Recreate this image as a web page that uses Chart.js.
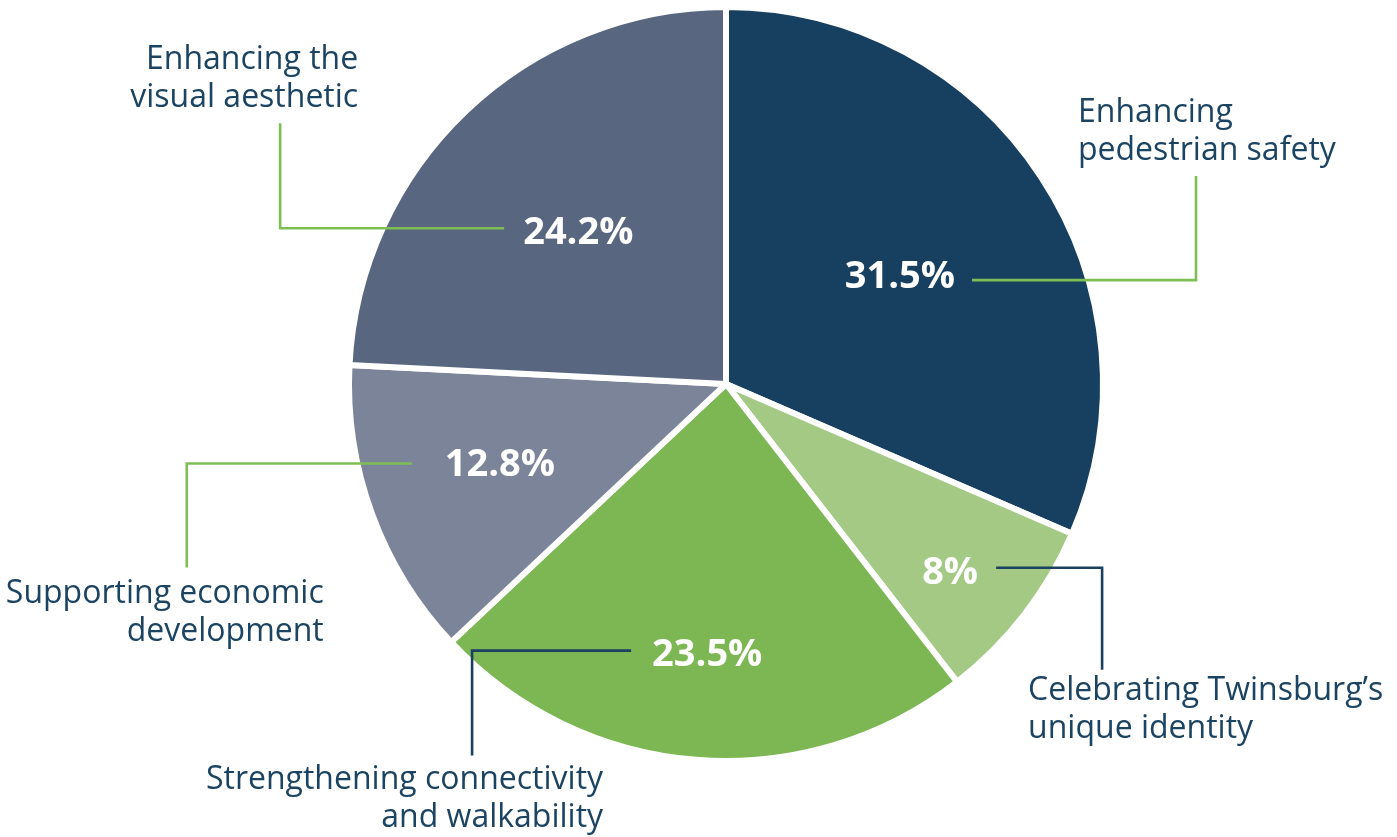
<!DOCTYPE html>
<html><head><meta charset="utf-8">
<script src="https://cdn.jsdelivr.net/npm/chart.js@4.4.0/dist/chart.umd.min.js"></script>
<style>html,body{margin:0;padding:0;background:#fff;overflow:hidden}#wrap{width:1397px;height:837px;position:relative}</style>
</head><body><div id="wrap"><canvas id="c"></canvas></div>
<script>
// ---- data ----
const categories = [
  ["Enhancing", "pedestrian safety"],
  ["Celebrating Twinsburg’s", "unique identity"],
  ["Strengthening connectivity", "and walkability"],
  ["Supporting economic", "development"],
  ["Enhancing the", "visual aesthetic"]
];
const values = [31.5, 8, 23.5, 12.8, 24.2];
const percentLabels = ["31.5%", "8%", "23.5%", "12.8%", "24.2%"];

// ---- styles ----
const sliceColors = ["#173f5f", "#a3c985", "#7db753", "#7b8499", "#58667f"];
const GREEN_LINE = "#7dbf55", NAVY_LINE = "#1b4160";
const TEXT_COLOR = "#1b4462";
// callout styling per slice (relative placement)
const callouts = [
  {r:0.55, nudge:1,   gap:17, side: 1, h:224, v:-104, dy:6,  color:GREEN_LINE, tdx:-118, align:"left",  b1:-54},
  {r:0.78, nudge:2,   gap:18, side: 1, h:106, v: 102, dy:-3, color:NAVY_LINE,  tdx:-74,  align:"left",  b1:30},
  {r:0.72, nudge:-0.5,gap:21, side:-1, h:159, v: 105, dy:-2, color:NAVY_LINE,  tdx:131,  align:"right", b1:33},
  {r:0.64, nudge:1,   gap:33, side:-1, h:225, v: 104, dy:1,  color:GREEN_LINE, tdx:137,  align:"right", b1:35},
  {r:0.57, nudge:-0.3,gap:19, side:-1, h:224, v:-105, dy:-2, color:GREEN_LINE, tdx:78,   align:"right", b1:-54}
];

const calloutPlugin = {
  id: 'callouts',
  afterDatasetsDraw(chart) {
    const ctx = chart.ctx;
    const meta = chart.getDatasetMeta(0);
    meta.data.forEach((arc, i) => {
      const c = callouts[i];
      const p = arc.getProps(['x','y','startAngle','endAngle','outerRadius'], true);
      const R = p.outerRadius - 3;
      const mid = (p.startAngle + p.endAngle) / 2 + c.nudge * Math.PI / 180;
      const lx = p.x + Math.cos(mid) * R * c.r;
      const ly = p.y + Math.sin(mid) * R * c.r;
      ctx.save();
      ctx.font = 'bold 38px "Open Sans"';
      ctx.fillStyle = '#ffffff';
      ctx.textAlign = 'center';
      ctx.textBaseline = 'alphabetic';
      ctx.fillText(percentLabels[i], lx, ly + 13.5);
      const half = ctx.measureText(percentLabels[i]).width / 2;
      // leader line
      const sx = lx + c.side * (half + c.gap);
      const sy = ly + c.dy;
      const cx = sx + c.side * c.h;
      const ey = sy + c.v;
      ctx.strokeStyle = c.color;
      ctx.lineWidth = 2.6;
      ctx.lineJoin = 'miter';
      ctx.beginPath();
      ctx.moveTo(sx, sy);
      ctx.lineTo(cx, sy);
      ctx.lineTo(cx, ey);
      ctx.stroke();
      // category label
      ctx.font = '32px "Open Sans"';
      ctx.fillStyle = TEXT_COLOR;
      ctx.textAlign = c.align;
      categories[i].forEach((line, k) => {
        ctx.fillText(line, cx + c.tdx, ey + c.b1 + k * 38);
      });
      ctx.restore();
    });
  }
};

function build() {
  new Chart(document.getElementById('c'), {
    type: 'pie',
    data: {
      labels: categories.map(l => l.join(' ')),
      datasets: [{
        data: values,
        backgroundColor: sliceColors,
        borderColor: '#ffffff',
        borderWidth: 6
      }]
    },
    options: {
      responsive: true,
      maintainAspectRatio: false,
      animation: false,
      layout: { padding: { left: 55, right: 0, top: 4, bottom: 73 } },
      plugins: { legend: { display: false }, tooltip: { enabled: false } }
    },
    plugins: [calloutPlugin]
  });
}
Promise.all([
  document.fonts.load('32px "Open Sans"'),
  document.fonts.load('bold 38px "Open Sans"')
]).then(build, build);
</script>
</body></html>
